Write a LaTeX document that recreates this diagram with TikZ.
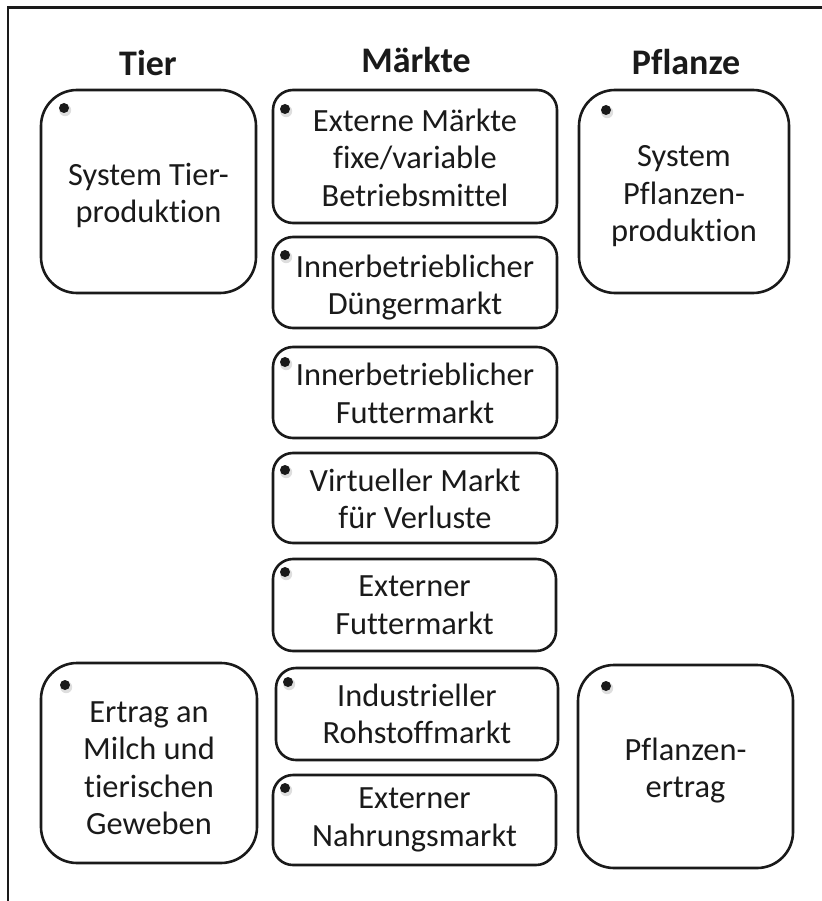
\documentclass[tikz,border=0pt]{standalone}
\usepackage{fontspec}
\setmainfont{Carlito}[Ligatures=NoCommon]
\definecolor{ink}{HTML}{1A1A1A}
\begin{document}
\begin{tikzpicture}[x=1pt,y=-1pt,
  box/.style={draw=ink, line width=2.6pt, rounded corners=#1, inner sep=0pt},
  box/.default=20pt,
  txt/.style={align=center, text=ink, font=\fontsize{32.4}{37.5}\selectfont, inner sep=0pt},
  head/.style={text=ink, font=\fontsize{36}{40}\selectfont\bfseries, inner sep=0pt},
  frame/.style={draw=ink, line width=2.6pt}]
\useasboundingbox (0,0) rectangle (821,901);
% frame (only left and top edges visible)
\coordinate (fbl) at (8,903);
\coordinate (ftl) at (8,7.5);
\coordinate (ftr) at (823,7.5);
\draw[frame] (fbl) -- (ftl) -- (ftr);
% headings
\node[head] (hTier) at (148,63) {Tier};
\node[head] (hMarkt) at (416,60) {Märkte};
\node[head] (hPfl) at (686,62) {Pflanze};
% Tier column
\node[box=36pt, minimum width=215pt, minimum height=203pt] (tier1) at (148.5,191.5) {};
\node[txt] (tier1t) at ([yshift=-4pt]tier1.center) {System Tier-\\produktion};
\node[box=36pt, minimum width=216pt, minimum height=200pt] (tier2) at (149,763) {};
\node[txt] (tier2t) at ([yshift=-5pt]tier2.center) {Ertrag an\\Milch und\\tierischen\\Geweben};
% Pflanze column
\node[box=36pt, minimum width=210pt, minimum height=203pt] (pfl1) at (684,191.5) {};
\node[txt] (pfl1t) at ([yshift=-5pt]pfl1.center) {System\\Pflanzen-\\produktion};
\node[box=36pt, minimum width=215pt, minimum height=203pt] (pfl2) at (685.5,766.5) {};
\node[txt] (pfl2t) at ([yshift=-4pt]pfl2.center) {Pflanzen-\\ertrag};
% Märkte column
\node[box, minimum width=284pt, minimum height=133pt] (m1) at (415,156.5) {};
\node[txt] (m1t) at ([yshift=-1pt]m1.center) {Externe Märkte\\fixe/variable\\Betriebsmittel};
\node[box, minimum width=284pt, minimum height=91pt] (m2) at (415,282.5) {};
\node[txt] (m2t) at ([yshift=-5pt]m2.center) {Innerbetrieblicher\\Düngermarkt};
\node[box, minimum width=284pt, minimum height=91pt] (m3) at (415,392.5) {};
\node[txt] (m3t) at ([yshift=-1pt]m3.center) {Innerbetrieblicher\\Futtermarkt};
\node[box, minimum width=284pt, minimum height=90pt] (m4) at (415,498) {};
\node[txt] (m4t) at ([yshift=-1pt]m4.center) {Virtueller Markt\\für Verluste};
\node[box, minimum width=283pt, minimum height=92pt] (m5) at (414.5,605) {};
\node[txt] (m5t) at (m5.center) {Externer\\Futtermarkt};
\node[box, minimum width=282pt, minimum height=92pt] (m6) at (417,714) {};
\node[txt] (m6t) at (m6.center) {Industrieller\\Rohstoffmarkt};
\node[box, minimum width=283pt, minimum height=90pt] (m7) at (414.5,820) {};
\node[txt] (m7t) at (m7.center) {Externer\\Nahrungsmarkt};
% bullets
\foreach \n/\px/\py in {b1/64/108, b2/65/685, b3/606/110, b4/606/686,
  b5/285/109, b6/285/255, b7/285/362, b8/285/470, b9/285/572, b10/288/682, b11/285/788}{
  \coordinate (\n) at (\px,\py);
  \fill[black!13] ([xshift=1.2pt,yshift=-2.2pt]\n) circle[radius=6pt];
  \fill[ink] (\n) circle[radius=5pt];
}
\end{tikzpicture}
\end{document}
